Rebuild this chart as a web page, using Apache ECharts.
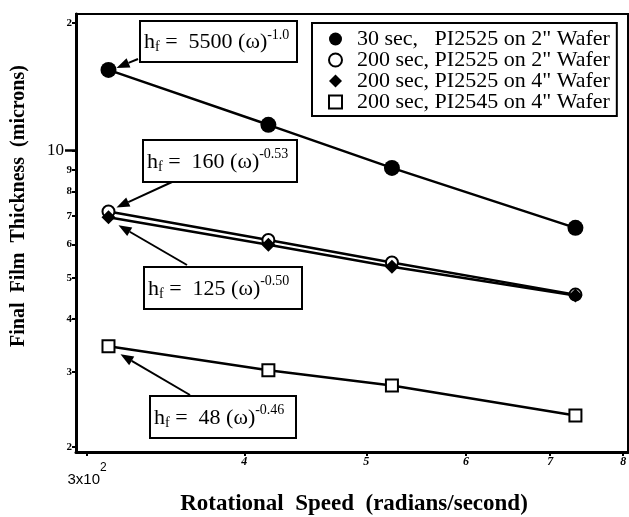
<!DOCTYPE html>
<html><head><meta charset="utf-8">
<script src="https://cdn.jsdelivr.net/npm/echarts@6/dist/echarts.min.js"></script>
<style>html,body{margin:0;padding:0;background:#fff}#c{width:629px;height:517px}</style>
</head><body><div id="c"></div>
<script>
// ---- data ----
const speeds = [312, 418, 524, 733];           // rad/s
const s30_2in = [15.5, 11.5, 9.1, 6.57];
const s200_2in = [7.18, 6.15, 5.44, 4.57];
const s200_4in = [6.96, 5.99, 5.32, 4.55];
const s200_2545 = [3.45, 3.03, 2.79, 2.37];
const seriesNames = ['30 sec,   PI2525 on 2" Wafer', '200 sec, PI2525 on 2" Wafer', '200 sec, PI2525 on 4" Wafer', '200 sec, PI2545 on 4" Wafer'];
const xTicks = [300, 400, 500, 600, 700, 800];
const xTickLabels = ['3x10|2', '4', '5', '6', '7', '8'];
const yTicks = [2, 3, 4, 5, 6, 7, 8, 9, 10, 20];
const yTickLabels = ['2', '3', '4', '5', '6', '7', '8', '9', '10', '2'];
const fitCoefs = ['5500', '160', '125', '48'];
const fitExps = ['-1.0', '-0.53', '-0.50', '-0.46'];

const FONT = 'Liberation Serif';
const allSeries = [s30_2in, s200_2in, s200_4in, s200_2545];
const symbols = ['circle', 'emptyCircle', 'diamond', 'emptyRect'];
const symSizes = [16, 12, 14, 12];

const chart = echarts.init(document.getElementById('c'), null, {renderer: 'canvas'});

function nearestIdx(arr, v) {
  let b = 0; for (let i = 1; i < arr.length; i++) if (Math.abs(arr[i] - v) < Math.abs(arr[b] - v)) b = i; return b;
}

const option = {
  animation: false,
  backgroundColor: '#fff',
  grid: {left: 76, top: 14, right: 1, bottom: 65, show: true, borderColor: '#000', borderWidth: 2,
         containLabel: false, outerBoundsMode: 'none'},
  xAxis: {
    type: 'log', min: 294, max: 807,
    name: 'Rotational  Speed  (radians/second)', nameLocation: 'middle', nameGap: 41,
    nameTextStyle: {fontFamily: FONT, fontWeight: 'bold', fontSize: 23, color: '#000', padding: [0, 0, 0, 4]},
    axisLine: {lineStyle: {color: '#000', width: 3}},
    axisTick: {customValues: xTicks, length: 4, lineStyle: {color: '#000', width: 2}},
    axisLabel: {
      customValues: xTicks, margin: 4, color: '#000',
      formatter: function (v) {
        const lab = xTickLabels[nearestIdx(xTicks, v)];
        if (lab.indexOf('|') >= 0) { const p = lab.split('|'); return '{a|' + p[0] + '}{s|' + p[1] + '}'; }
        return '{b|' + lab + '}';
      },
      rich: {
        a: {fontFamily: 'Liberation Sans', fontSize: 15, color: '#000', padding: [16, 0, 0, 0]},
        s: {fontFamily: 'Liberation Sans', fontSize: 12, color: '#000', padding: [0, 0, 8, 0]},
        b: {fontFamily: FONT, fontWeight: 'bold', fontStyle: 'italic', fontSize: 12, color: '#000'}
      }
    },
    splitLine: {show: false}, minorTick: {show: false}
  },
  yAxis: [{
    type: 'log', min: 1.943, max: 21,
    name: 'Final  Film  Thickness  (microns)', nameLocation: 'middle', nameGap: 47,
    nameTextStyle: {fontFamily: FONT, fontWeight: 'bold', fontSize: 20, color: '#000', padding: [0, 0, 0, 54]},
    axisLine: {lineStyle: {color: '#000', width: 3}},
    axisTick: {customValues: yTicks, length: 4, lineStyle: {color: '#000', width: 2}},
    axisLabel: {
      customValues: yTicks, margin: 4, color: '#000',
      formatter: function (v) {
        const lab = yTickLabels[nearestIdx(yTicks, v)];
        return lab === '10' ? '{big|10}' : '{sm|' + lab + '}';
      },
      rich: {
        big: {fontFamily: FONT, fontSize: 17, color: '#000', padding: [0, 8, 0, 0]},
        sm: {fontFamily: FONT, fontWeight: 'bold', fontSize: 11, color: '#000'}
      }
    },
    splitLine: {show: false}, minorTick: {show: false}
  }, {
    type: 'log', min: 1.943, max: 21, position: 'left', offset: 0,
    axisLine: {show: false},
    axisTick: {customValues: [10], length: 11, lineStyle: {color: '#000', width: 2.5}},
    axisLabel: {show: false}, splitLine: {show: false}, minorTick: {show: false}
  }],
  legend: {
    orient: 'vertical', left: 312, top: 23,
    padding: [5, 7, 3, 16], itemGap: -1, itemWidth: 13, itemHeight: 13, symbolKeepAspect: true,
    borderColor: '#000', borderWidth: 2, backgroundColor: '#fff',
    textStyle: {fontFamily: FONT, fontSize: 22, color: '#000', padding: [0, 0, 0, 10]},
    data: seriesNames.map((n, i) => ({name: n, icon: symbols[i]}))
  },
  series: allSeries.map((vals, i) => ({
    type: 'line', name: seriesNames[i], yAxisIndex: 0,
    data: speeds.map((x, j) => [x, vals[j]]),
    symbol: symbols[i], symbolSize: symSizes[i],
    lineStyle: {color: '#000', width: 2.5},
    itemStyle: {color: '#000', borderColor: '#000', borderWidth: (i === 1 || i === 3) ? 1.6 : 0},
    z: 2 + i, silent: true
  }))
};
chart.setOption(option);

// ---- annotation boxes with arrows (layout boxes; arrow tips from data via the axes) ----
const boxes = [
  {x: 140, y: 21, w: 157, h: 41, from: [138, 59], dx: 8, dy: -2},
  {x: 143, y: 140, w: 154, h: 42, from: [172, 182], dx: 8, dy: -4},
  {x: 144, y: 267, w: 158, h: 42, from: [187, 265], dx: 10, dy: 8},
  {x: 150, y: 396, w: 146, h: 42, from: [190, 395], dx: 12, dy: 8}
];
const graphics = [];
boxes.forEach((b, i) => {
  const p = chart.convertToPixel({seriesIndex: i}, [speeds[0], allSeries[i][0]]);
  const tip = [p[0] + b.dx, p[1] + b.dy];
  const ang = Math.atan2(tip[1] - b.from[1], tip[0] - b.from[0]);
  const L = 13, W = 5;
  const base = [tip[0] - L * Math.cos(ang), tip[1] - L * Math.sin(ang)];
  const nx = -Math.sin(ang), ny = Math.cos(ang);
  graphics.push({type: 'line', z: 100, shape: {x1: b.from[0], y1: b.from[1], x2: base[0], y2: base[1]}, style: {stroke: '#000', lineWidth: 2}});
  graphics.push({type: 'polygon', z: 100, shape: {points: [tip, [base[0] + nx * W, base[1] + ny * W], [base[0] - nx * W, base[1] - ny * W]]}, style: {fill: '#000'}});
  graphics.push({type: 'rect', z: 100, shape: {x: b.x, y: b.y, width: b.w, height: b.h}, style: {fill: '#fff', stroke: '#000', lineWidth: 2}});
  graphics.push({type: 'text', z: 101, x: b.x + 4, y: b.y + b.h / 2 + 1,
    style: {
      text: '{t|h}{sub|f}{t| =  ' + fitCoefs[i] + ' (\u03c9)}{sup|' + fitExps[i] + '}',
      verticalAlign: 'middle',
      rich: {
        t: {fontFamily: FONT, fontSize: 22, fill: '#000'},
        sub: {fontFamily: FONT, fontSize: 14, fill: '#000', padding: [10, 0, 0, 0]},
        sup: {fontFamily: FONT, fontSize: 14, fill: '#000', padding: [0, 0, 15, 0]}
      }
    }});
});
chart.setOption({graphic: graphics});
</script></body></html>
